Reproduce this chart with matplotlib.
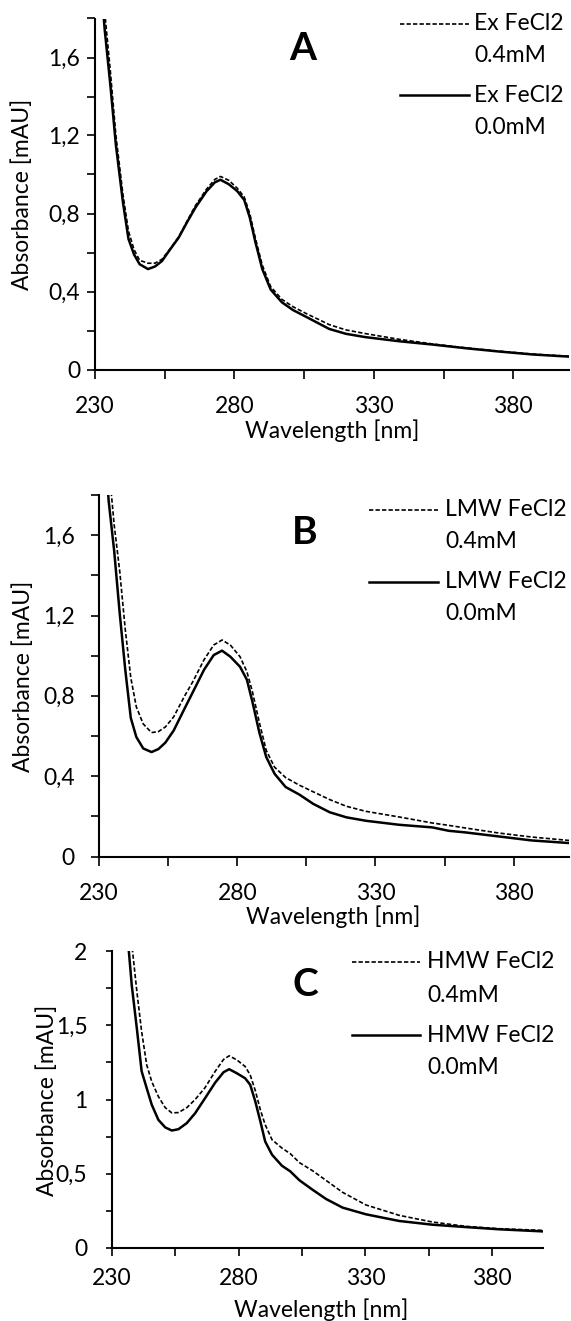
import numpy as np
import matplotlib.pyplot as plt
from matplotlib.lines import Line2D
from matplotlib.ticker import FixedLocator, FuncFormatter

plt.rcParams['font.family'] = ['Lato', 'DejaVu Sans']

# --- data ---
wl_ex = [232, 233.5, 235.5, 237.5, 240, 242, 244, 246, 249, 251.5, 254, 257, 260, 263, 266,
         270, 273, 275, 278, 281, 283.5, 285.5, 287.5, 290, 293, 297, 301, 306, 310, 314,
         320, 327, 339, 351, 363, 375, 387, 400]
ex_fe04 = [2.0, 1.83, 1.53, 1.2, 0.9, 0.71, 0.615, 0.56, 0.545, 0.545, 0.565, 0.62, 0.68, 0.76, 0.84,
           0.925, 0.975, 0.99, 0.97, 0.93, 0.885, 0.8, 0.675, 0.535, 0.425, 0.36, 0.322, 0.285, 0.258, 0.23,
           0.203, 0.184, 0.155, 0.131, 0.111, 0.094, 0.079, 0.068]
ex_fe00 = [2.0, 1.74, 1.46, 1.15, 0.86, 0.67, 0.59, 0.54, 0.515, 0.528, 0.556, 0.617, 0.676, 0.755, 0.83,
           0.914, 0.96, 0.973, 0.95, 0.915, 0.87, 0.78, 0.655, 0.515, 0.41, 0.345, 0.305, 0.268, 0.238, 0.208,
           0.183, 0.166, 0.145, 0.128, 0.109, 0.092, 0.077, 0.066]

wl_lmw = [232, 233.5, 235.5, 237.5, 239.5, 241.5, 243.5, 246, 249, 251.5, 254, 257, 261, 264, 268,
          271.5, 274.5, 277.5, 281, 283.5, 285.5, 288, 290.5, 293.5, 297.5, 302.5, 307.5, 313.5, 319.5,
          326.5, 338.5, 350.5, 356.5, 362.5, 374.5, 386.5, 400]
lmw_fe04 = [2.3, 1.95, 1.65, 1.42, 1.13, 0.89, 0.745, 0.66, 0.617, 0.622, 0.645, 0.695, 0.8, 0.872, 0.98,
            1.053, 1.078, 1.053, 0.995, 0.92, 0.82, 0.667, 0.528, 0.445, 0.393, 0.355, 0.322, 0.283, 0.25,
            0.225, 0.197, 0.167, 0.155, 0.142, 0.117, 0.097, 0.08]
lmw_fe00 = [2.05, 1.77, 1.52, 1.21, 0.93, 0.69, 0.595, 0.538, 0.52, 0.535, 0.567, 0.627, 0.738, 0.82, 0.93,
            1.003, 1.025, 0.995, 0.945, 0.88, 0.77, 0.617, 0.495, 0.412, 0.346, 0.308, 0.262, 0.22, 0.195,
            0.178, 0.158, 0.145, 0.128, 0.12, 0.10, 0.08, 0.067]

wl_hmw = [236, 237.9, 239.9, 241.8, 243.8, 245.8, 248.4, 251.1, 253.7, 256.3, 259.6, 262.9, 266.8, 270.8,
          274.1, 276.3, 279.3, 282.6, 284.6, 286.6, 288.6, 290.5, 293.2, 297.1, 300.4, 304, 309.2, 314.5,
          321, 330.2, 343.3, 356.4, 369.5, 382.6, 399.6]
hmw_fe04 = [2.5, 2.05, 1.73, 1.457, 1.233, 1.12, 1.02, 0.945, 0.91, 0.912, 0.945, 1.0, 1.08, 1.19,
            1.27, 1.294, 1.267, 1.222, 1.165, 1.06, 0.93, 0.83, 0.729, 0.673, 0.635, 0.575, 0.52, 0.455,
            0.375, 0.29, 0.22, 0.175, 0.146, 0.13, 0.119]
hmw_fe00 = [2.15, 1.77, 1.48, 1.19, 1.076, 0.964, 0.863, 0.812, 0.791, 0.80, 0.841, 0.908, 1.009, 1.114,
            1.184, 1.204, 1.177, 1.143, 1.099, 0.987, 0.852, 0.717, 0.628, 0.554, 0.516, 0.456, 0.392, 0.33,
            0.272, 0.227, 0.182, 0.157, 0.141, 0.126, 0.112]

W, H = 571, 1321
fig = plt.figure(figsize=(W / 100, H / 100), dpi=100)


def box(l, t, r, b):
    return [l / W, 1 - b / H, (r - l) / W, (b - t) / H]


def fpt(x, y):
    return (x / W, 1 - y / H)


def comma(v, pos):
    if abs(v) < 1e-9:
        return '0'
    s = ('%.1f' % v) if abs(v - round(v)) > 1e-9 else '%d' % round(v)
    return s.replace('.', ',')


panels = [
    dict(box=box(95, 18.5, 569, 369.5), x=wl_ex, y04=ex_fe04, y00=ex_fe00, name='Ex FeCl2', letter='A',
         ymax=1.8, ymaj=0.4, ymin_step=0.2, ypad=5, xpad=12.5, xlen=6.5, ylen=5.8,
         ylab=(22, 194), xlab=(332, 431), leg_x=(400, 469, 474), leg_y=(24, 55, 95, 127), let=(303, 48)),
    dict(box=box(99, 495, 569, 856.5), x=wl_lmw, y04=lmw_fe04, y00=lmw_fe00, name='LMW FeCl2', letter='B',
         ymax=1.8, ymaj=0.4, ymin_step=0.2, ypad=11.5, xpad=12.5, xlen=6.5, ylen=5.8,
         ylab=(23, 676), xlab=(333, 917), leg_x=(369, 438, 445), leg_y=(510, 542, 582, 613), let=(305, 532)),
    dict(box=box(111.7, 951, 543, 1248), x=wl_hmw, y04=hmw_fe04, y00=hmw_fe00, name='HMW FeCl2', letter='C',
         ymax=2.0, ymaj=0.5, ymin_step=0.25, ypad=13, xpad=8.6, xlen=5.8, ylen=4.5,
         ylab=(47, 1100), xlab=(321, 1310), leg_x=(352, 420, 427), leg_y=(962, 995, 1035, 1068), let=(305, 985)),
]

FS = 16.5
for p in panels:
    ax = fig.add_axes(p['box'])
    ax.plot(p['x'], p['y04'], color='black', lw=1.2, ls=(0, (2.6, 1.3)))
    ax.plot(p['x'], p['y00'], color='black', lw=1.8)
    ax.set_xlim(230, 400)
    ax.set_ylim(0, p['ymax'])
    for s in ['top', 'right']:
        ax.spines[s].set_visible(False)
    for s in ['left', 'bottom']:
        ax.spines[s].set_linewidth(1.5)
    ax.xaxis.set_major_locator(FixedLocator(np.arange(230, 401, 50)))
    ax.xaxis.set_minor_locator(FixedLocator(np.arange(255, 401, 50)))
    ax.yaxis.set_major_locator(FixedLocator(np.arange(0, p['ymax'] + 1e-6, p['ymaj'])))
    ax.yaxis.set_minor_locator(FixedLocator(np.arange(p['ymin_step'], p['ymax'] + 1e-6, p['ymaj'])))
    ax.yaxis.set_major_formatter(FuncFormatter(comma))
    ax.tick_params(axis='x', which='both', direction='out', length=p['xlen'], width=1.2,
                   pad=p['xpad'], labelsize=FS)
    ax.tick_params(axis='y', which='both', direction='out', length=p['ylen'], width=1.2,
                   pad=p['ypad'], labelsize=FS)

    ax.set_xlabel('Wavelength [nm]', fontsize=FS, va='center')
    ax.xaxis.set_label_coords(*fpt(*p['xlab']), transform=fig.transFigure)
    ax.set_ylabel('Absorbance [mAU]', fontsize=FS, va='center')
    ax.yaxis.set_label_coords(*fpt(*p['ylab']), transform=fig.transFigure)

    # legend drawn by hand: line beside first line of a two-line label
    x0, x1, xt = p['leg_x']
    ya, yb, yc, yd = p['leg_y']
    fig.add_artist(Line2D([x0 / W, x1 / W], [1 - ya / H] * 2, transform=fig.transFigure,
                          color='black', lw=1.2, ls=(0, (2.6, 1.3))))
    fig.add_artist(Line2D([x0 / W, x1 / W], [1 - yc / H] * 2, transform=fig.transFigure,
                          color='black', lw=1.8))
    for txt, yy in [(p['name'], ya), ('0.4mM', yb), (p['name'], yc), ('0.0mM', yd)]:
        fig.text(*fpt(xt, yy), txt, fontsize=FS, ha='left', va='center')

    fig.text(*fpt(*p['let']), p['letter'], fontsize=28, fontweight='bold', ha='center', va='center')

fig.savefig('out.png', dpi=100)
